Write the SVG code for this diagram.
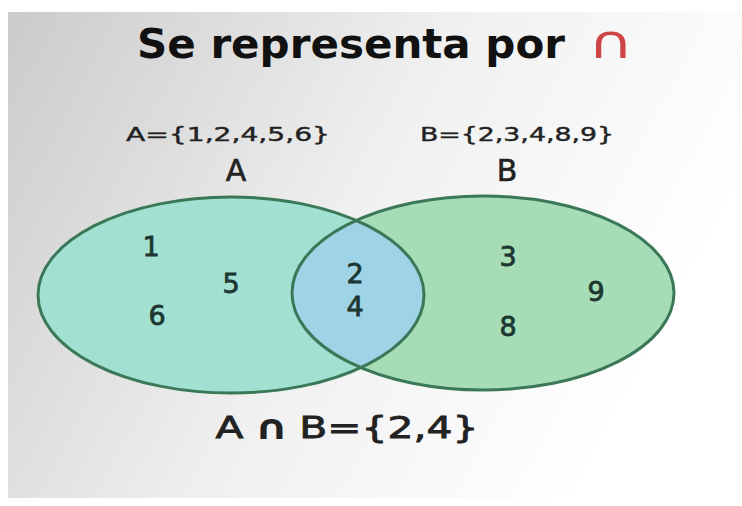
<svg xmlns="http://www.w3.org/2000/svg" width="742" height="506" viewBox="0 0 742 506">
<defs>
<linearGradient id="bg" x1="0" y1="0" x2="1" y2="0.35">
<stop offset="0" stop-color="#cbcbcb"/>
<stop offset="0.55" stop-color="#f0f0f0"/>
<stop offset="1" stop-color="#ffffff"/>
</linearGradient>
<clipPath id="clipA"><ellipse cx="231" cy="295" rx="193" ry="98"/></clipPath>
</defs>
<style>
.set{stroke:#3a7858;stroke-width:3}
.num{font-family:"DejaVu Sans",sans-serif;font-size:27px;fill:#1c3731;stroke:#1c3731;stroke-width:0.8;text-anchor:middle}
.lbl{font-family:"DejaVu Sans",sans-serif;fill:#222;stroke:#222;text-anchor:middle}
</style>
<rect x="0" y="0" width="742" height="506" fill="#ffffff"/>
<rect x="8" y="12" width="734" height="486" fill="url(#bg)"/>
<g id="title">
<text x="137" y="58" font-family="'DejaVu Sans',sans-serif" font-weight="bold" font-size="40" fill="#111" textLength="428" lengthAdjust="spacingAndGlyphs">Se representa por</text>
<text transform="translate(588,58) scale(1.35,1)" x="0" y="0" font-family="'DejaVu Sans',sans-serif" font-size="46" fill="#cf4545">∩</text>
</g>
<g id="setA">
<ellipse cx="231" cy="295" rx="193" ry="98" fill="#a2e0d1"/>
</g>
<g id="setB">
<ellipse cx="483" cy="293" rx="191" ry="97" fill="#a6ddb6"/>
</g>
<g id="intersection">
<ellipse cx="483" cy="293" rx="191" ry="97" fill="#9fd3e6" clip-path="url(#clipA)"/>
</g>
<g id="outlines">
<ellipse class="set" cx="231" cy="295" rx="193" ry="98" fill="none"/>
<ellipse class="set" cx="483" cy="293" rx="191" ry="97" fill="none"/>
</g>
<g id="labels">
<text class="lbl" x="228" y="141" font-size="19" stroke-width="0.4" textLength="204" lengthAdjust="spacingAndGlyphs">A={1,2,4,5,6}</text>
<text class="lbl" x="517" y="141" font-size="19" stroke-width="0.4" textLength="194" lengthAdjust="spacingAndGlyphs">B={2,3,4,8,9}</text>
<text class="lbl" x="236" y="181" font-size="30" stroke-width="0.6">A</text>
<text class="lbl" x="507" y="181" font-size="30" stroke-width="0.6">B</text>
</g>
<g id="elements">
<text class="num" x="151" y="256">1</text>
<text class="num" x="231" y="293">5</text>
<text class="num" x="157" y="325">6</text>
<text class="num" x="355" y="283">2</text>
<text class="num" x="355" y="316">4</text>
<text class="num" x="508" y="266">3</text>
<text class="num" x="596" y="301">9</text>
<text class="num" x="508" y="336">8</text>
</g>
<g id="result">
<text class="lbl" x="347" y="438" font-size="31" stroke-width="0.8" textLength="263" lengthAdjust="spacingAndGlyphs">A <tspan stroke-width="2">∩</tspan> B={2,4}</text>
</g>
</svg>
